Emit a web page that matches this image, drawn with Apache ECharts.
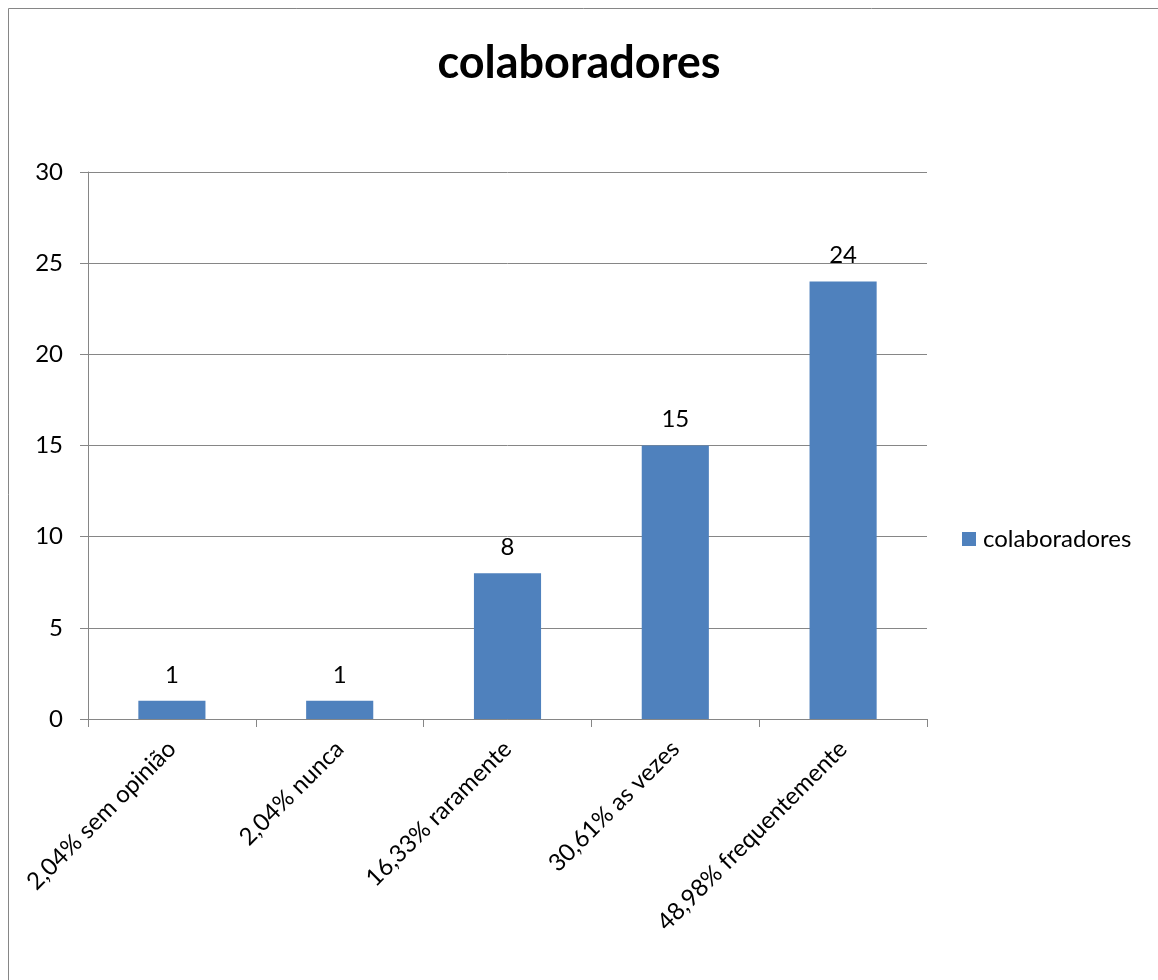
<!DOCTYPE html>
<html><head><meta charset="utf-8">
<script src="https://cdn.jsdelivr.net/npm/echarts@6/dist/echarts.min.js"></script>
<style>html,body{margin:0;padding:0;background:#fff}#c{width:1158px;height:980px}</style>
</head><body><div id="c"></div>
<script>
const titleText = 'colaboradores';
const seriesName = 'colaboradores';
const categories = ['2,04% sem opinião', '2,04% nunca', '16,33% raramente', '30,61% as vezes', '48,98% frequentemente'];
const values = [1, 1, 8, 15, 24];
const yTicks = {min: 0, max: 30, interval: 5};

const FONT = 'Lato';
const FS = 24;
const chart = echarts.init(document.getElementById('c'));
chart.setOption({
  animation: false,
  backgroundColor: '#fff',
  textStyle: {fontFamily: FONT},
  graphic: [{type: 'rect', shape: {x: 8.5, y: 8.5, width: 1200, height: 1000}, style: {fill: 'none', stroke: '#868686', lineWidth: 1}, silent: true}],
  title: {text: titleText, left: 'center', top: 36, textStyle: {fontFamily: FONT, fontWeight: 'bold', fontSize: 45, color: '#000'}},
  legend: {orient: 'vertical', left: 957, top: 522, itemWidth: 14, itemHeight: 14, itemGap: 8,
    icon: 'rect',
    textStyle: {fontFamily: FONT, fontSize: FS, color: '#000', padding: [0, 0, 0, 2]}, data: [seriesName]},
  grid: {left: 88, top: 172, width: 839, height: 547, containLabel: false},
  xAxis: {type: 'category', data: categories,
    axisLine: {lineStyle: {color: '#868686', width: 1}},
    axisTick: {show: true, alignWithLabel: false, length: 8, lineStyle: {color: '#868686'}},
    axisLabel: {rotate: 45, interval: 0, fontSize: FS, color: '#000', fontFamily: FONT, margin: 26}},
  yAxis: {type: 'value', min: yTicks.min, max: yTicks.max, interval: yTicks.interval,
    axisLine: {show: true, lineStyle: {color: '#868686'}},
    axisTick: {show: true, length: 8, lineStyle: {color: '#868686'}},
    splitLine: {lineStyle: {color: '#868686', width: 1}},
    axisLabel: {fontSize: FS, color: '#000', fontFamily: FONT, margin: 25}},
  series: [{name: seriesName, type: 'bar', data: values, barWidth: '40%',
    itemStyle: {color: '#4F81BD'},
    label: {show: true, position: 'top', distance: 14, fontSize: FS, color: '#000', fontFamily: FONT}}]
});
</script></body></html>
